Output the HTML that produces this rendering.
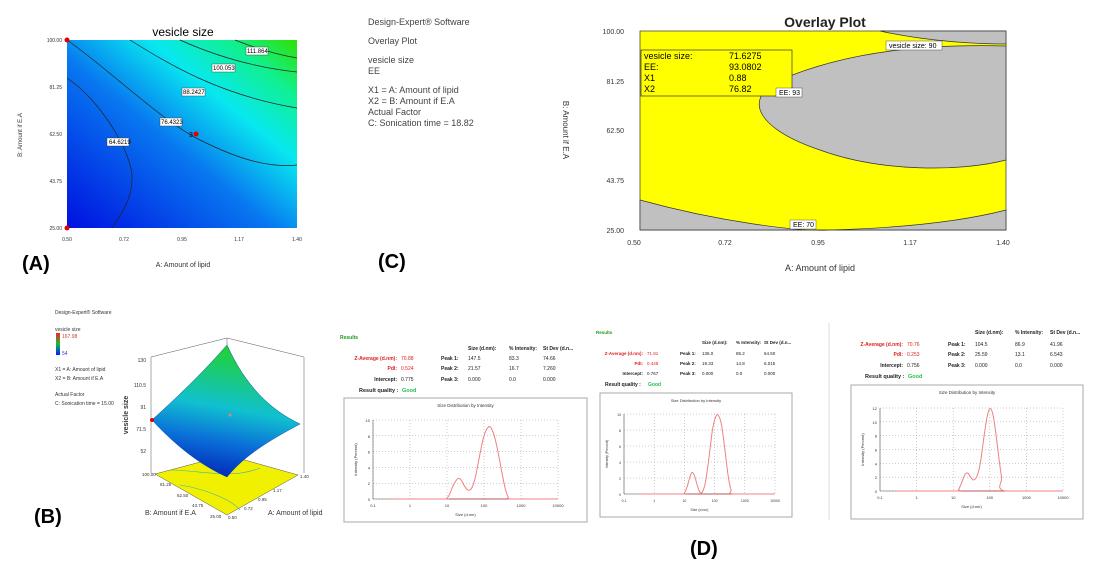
<!DOCTYPE html>
<html><head><meta charset="utf-8"><style>
body{margin:0;background:#fff;}
svg{display:block;font-family:"Liberation Sans",sans-serif;}
</style></head><body>
<svg id="s" width="1105" height="562" viewBox="0 0 1105 562">
<defs>
<linearGradient id="ga" x1="0" y1="1" x2="1" y2="0">
<stop offset="0" stop-color="#0010e0"/><stop offset="0.45" stop-color="#0878f0"/><stop offset="0.68" stop-color="#08e8f0"/><stop offset="0.85" stop-color="#10f090"/><stop offset="1" stop-color="#30e000"/></linearGradient>
<linearGradient id="gb" x1="0" y1="1" x2="0.2" y2="0">
<stop offset="0" stop-color="#0010b0"/><stop offset="0.35" stop-color="#0a70d8"/><stop offset="0.6" stop-color="#10c0d0"/><stop offset="1" stop-color="#20d040"/></linearGradient>
<linearGradient id="gc" x1="0" y1="1" x2="0" y2="0"><stop offset="0" stop-color="#0020ff"/><stop offset="0.5" stop-color="#10c040"/><stop offset="1" stop-color="#ff2020"/></linearGradient>
</defs>

<!-- Panel A -->
<g>
<text x="183" y="36" font-size="12" text-anchor="middle">vesicle size</text>
<rect x="67" y="40" width="230" height="188" fill="url(#ga)"/>
<g fill="none" stroke="#222" stroke-width="0.7">
<path d="M67,78 C100,100 130,150 132,175 C133,200 120,215 112,228"/>
<path d="M67,40 C110,70 160,120 200,140 C240,160 270,168 297,165"/>
<path d="M130,40 C170,65 220,95 297,108"/>
<path d="M180,40 C220,58 260,68 297,72"/>
<path d="M235,40 C260,50 280,55 297,58"/>
</g>
<g font-size="6" fill="#000">
<rect x="107" y="138" width="22" height="8" fill="#fff" stroke="#333" stroke-width="0.4"/><text x="109" y="144">64.6219</text>
<rect x="160" y="118" width="22" height="8" fill="#fff" stroke="#333" stroke-width="0.4"/><text x="161" y="124">76.4323</text>
<rect x="182" y="88" width="23" height="8" fill="#fff" stroke="#333" stroke-width="0.4"/><text x="183" y="94">88.2427</text>
<rect x="212" y="64" width="23" height="8" fill="#fff" stroke="#333" stroke-width="0.4"/><text x="213" y="70">100.053</text>
<rect x="246" y="47" width="22" height="8" fill="#fff" stroke="#333" stroke-width="0.4"/><text x="247" y="53">111.864</text>
</g>
<circle cx="196" cy="134" r="2.5" fill="#e00000"/><text x="189" y="137" font-size="7">3</text>
<circle cx="67" cy="40" r="2.5" fill="#e00000"/><circle cx="67" cy="228" r="2.5" fill="#e00000"/>
<g font-size="5" fill="#333" text-anchor="end">
<text x="62" y="42">100.00</text><text x="62" y="89">81.25</text><text x="62" y="136">62.50</text><text x="62" y="183">43.75</text><text x="62" y="230">25.00</text></g>
<g font-size="5" fill="#333" text-anchor="middle">
<text x="67" y="241">0.50</text><text x="124" y="241">0.72</text><text x="182" y="241">0.95</text><text x="239" y="241">1.17</text><text x="297" y="241">1.40</text></g>
<text x="183" y="267" font-size="7" text-anchor="middle" fill="#333">A: Amount of lipid</text>
<text transform="translate(22,135) rotate(-90)" font-size="6" text-anchor="middle" fill="#333">B: Amount if E.A</text>
<text x="22" y="270" font-size="20" font-weight="bold">(A)</text>
</g>

<!-- Panel C text -->
<g font-size="9" fill="#444">
<text x="368" y="25">Design-Expert® Software</text>
<text x="368" y="44">Overlay Plot</text>
<text x="368" y="63">vesicle size</text>
<text x="368" y="74">EE</text>
<text x="368" y="93">X1 = A: Amount of lipid</text>
<text x="368" y="104">X2 = B: Amount if E.A</text>
<text x="368" y="115">Actual Factor</text>
<text x="368" y="126">C: Sonication time = 18.82</text>
</g>
<text x="378" y="268" font-size="20" font-weight="bold">(C)</text>

<!-- Panel C overlay -->
<g>
<text x="825" y="27" font-size="14" font-weight="bold" text-anchor="middle" fill="#222">Overlay Plot</text>
<rect x="640" y="31" width="366" height="199" fill="#ffff00" stroke="#333" stroke-width="0.7"/>
<path d="M640,200 C720,222 800,232 830,230 C900,228 960,222 1006,210 L1006,230 L640,230Z" fill="#c0c0c0" stroke="#333" stroke-width="0.7"/>
<path d="M880,31 C930,42 980,44 1006,44 L1006,31Z" fill="#c0c0c0" stroke="#333" stroke-width="0.7"/>
<path d="M1006,46 C930,44 850,50 780,80 C740,100 760,130 820,150 C880,172 960,172 1006,160Z" fill="#c0c0c0" stroke="#333" stroke-width="0.7"/>
<rect x="641" y="50" width="151" height="46" fill="#ffff00" stroke="#333" stroke-width="0.7"/>
<g font-size="9" fill="#000"><text x="644" y="59">vesicle size:</text><text x="729" y="59">71.6275</text>
<text x="644" y="70">EE:</text><text x="729" y="70">93.0802</text>
<text x="644" y="81">X1</text><text x="729" y="81">0.88</text>
<text x="644" y="92">X2</text><text x="729" y="92">76.82</text></g>
<rect x="886" y="41" width="56" height="9" fill="#fff" stroke="#333" stroke-width="0.4"/><text x="889" y="48" font-size="7">vesicle size: 90</text>
<rect x="776" y="88" width="26" height="9" fill="#fff" stroke="#333" stroke-width="0.4"/><text x="779" y="95" font-size="7">EE: 93</text>
<rect x="790" y="220" width="26" height="9" fill="#fff" stroke="#333" stroke-width="0.4"/><text x="793" y="227" font-size="7">EE: 70</text>
<g font-size="7" fill="#333" text-anchor="end">
<text x="624" y="34">100.00</text><text x="624" y="84">81.25</text><text x="624" y="133">62.50</text><text x="624" y="183">43.75</text><text x="624" y="233">25.00</text></g>
<g font-size="7" fill="#333" text-anchor="middle">
<text x="634" y="245">0.50</text><text x="725" y="245">0.72</text><text x="818" y="245">0.95</text><text x="910" y="245">1.17</text><text x="1003" y="245">1.40</text></g>
<text x="820" y="271" font-size="9" text-anchor="middle" fill="#333">A: Amount of lipid</text>
<text transform="translate(563,130) rotate(90)" font-size="8" text-anchor="middle" fill="#333">B: Amount if E.A</text>
</g>

<!-- Panel B -->
<g>
<g font-size="5" fill="#333">
<text x="55" y="314">Design-Expert® Software</text>
<text x="55" y="331">vesicle size</text>
<rect x="56" y="333" width="4" height="22" fill="url(#gc)"/>
<text x="62" y="338" fill="#e03030">167.98</text><text x="62" y="355" fill="#3030e0">54</text>
<text x="55" y="371">X1 = A: Amount of lipid</text>
<text x="55" y="380">X2 = B: Amount if E.A</text>
<text x="55" y="396">Actual Factor</text>
<text x="55" y="405">C: Sonication time = 15.00</text></g>
<g stroke="#555" stroke-width="0.5" fill="none">
<line x1="151" y1="357" x2="151" y2="473"/><line x1="227" y1="338" x2="227" y2="455"/><line x1="304" y1="357" x2="304" y2="473"/>
<line x1="151" y1="357" x2="227" y2="338"/><line x1="227" y1="338" x2="304" y2="357"/></g>
<polygon points="155,474 227,455 298,475 227,515" fill="#f0f000" stroke="#555" stroke-width="0.5"/>
<path d="M170,470 C200,470 230,480 260,468 M180,485 C200,488 230,498 240,510" stroke="#40b0b0" fill="none" stroke-width="0.6"/>
<path d="M152,420 C185,390 205,370 227,345 C245,385 270,410 300,424 C270,440 245,455 227,477 C200,465 175,445 152,420Z" fill="url(#gb)" stroke="#0a50a0" stroke-width="0.5"/>
<circle cx="152" cy="420" r="2" fill="#e00000"/><circle cx="230" cy="415" r="1.5" fill="#e08080"/>
<g font-size="5" fill="#333" text-anchor="end"><text x="146" y="362">130</text><text x="146" y="387">110.5</text><text x="146" y="409">91</text><text x="146" y="431">71.5</text><text x="146" y="453">52</text></g>
<text transform="translate(128,415) rotate(-90)" font-size="7" font-weight="bold" text-anchor="middle" fill="#333">vesicle size</text>
<g font-size="4.5" fill="#333"><text x="142" y="476">100.00</text><text x="160" y="486">81.25</text><text x="177" y="497">62.50</text><text x="192" y="507">43.75</text><text x="210" y="518">25.00</text>
<text x="228" y="519">0.50</text><text x="244" y="510">0.72</text><text x="258" y="501">0.95</text><text x="273" y="492">1.17</text><text x="300" y="478">1.40</text></g>
<text x="145" y="515" font-size="7" fill="#333">B: Amount if E.A</text>
<text x="268" y="515" font-size="7" fill="#333">A: Amount of lipid</text>
<text x="34" y="523" font-size="20" font-weight="bold">(B)</text>
</g>

<line x1="829" y1="323" x2="829" y2="520" stroke="#ddd" stroke-width="1"/>
<text x="690" y="555" font-size="20" font-weight="bold">(D)</text>
<g id="dls"></g>
</svg>
<script>
// DLS data (size nm, intensity %)
const sizes1 = [0.3,8,10,12,15,20,25,30,38,48,60,80,100,130,160,200,250,300,380,450,550,10000];
const vals1  = [0,0,0.1,0.7,1.8,2.6,2.3,1.6,1.1,1.5,3.0,6.0,8.0,9.1,8.9,7.6,5.5,3.5,1.2,0.3,0,0];
const sizes2 = [0.3,8,10,12,15,18,22,27,33,40,50,65,85,110,135,170,220,280,350,420,10000];
const vals2  = [0,0,0.1,0.8,2.0,2.7,2.2,1.0,0.2,0.3,1.5,4.5,8.0,9.7,9.8,8.6,5.5,2.3,0.5,0,0];
const sizes3 = [0.3,12,14,17,21,25,30,36,45,55,70,85,100,120,145,175,210,260,10000];
const vals3  = [0,0,0.2,1.2,2.4,2.6,2.0,1.6,2.2,4.0,8.0,10.8,11.9,11.2,8.5,5.0,2.0,0,0];
const rows1 = [["Z-Average (d.nm):","70.88","Peak 1:","147.5","83.3","74.66"],["PdI:","0.524","Peak 2:","21.57","16.7","7.260"],["Intercept:","0.775","Peak 3:","0.000","0.0","0.000"]];
const rows2 = [["Z-Average (d.nm):","71.81","Peak 1:","136.0","85.2","64.50"],["PdI:","0.448","Peak 2:","19.33","14.8","6.015"],["Intercept:","0.767","Peak 3:","0.000","0.0","0.000"]];
const rows3 = [["Z-Average (d.nm):","70.76","Peak 1:","104.5","86.9","41.96"],["PdI:","0.253","Peak 2:","25.59","13.1","6.543"],["Intercept:","0.756","Peak 3:","0.000","0.0","0.000"]];
const xTicks = [0.1,1,10,100,1000,10000];
const xTickLabels = ["0.1","1","10","100","1000","10000"];

const NS="http://www.w3.org/2000/svg";
const root=document.getElementById('dls');
function el(t,a,p,txt){const e=document.createElementNS(NS,t);for(const k in a)e.setAttribute(k,a[k]);if(txt!==undefined)e.textContent=txt;(p||root).appendChild(e);return e;}
function panel(o,sizes,vals,rows,ymax){
 const g=el('g',{});
 
 
 const fs=o.fs;
 if(o.results){el('text',{x:o.rx,y:o.ry,'font-size':fs,fill:'#1a9a1a','font-weight':'bold'},g,'Results');}
 const hd=["Size (d.nm):","% Intensity:","St Dev (d.n..."];
 hd.forEach((h,i)=>el('text',{x:o.cols[i],y:o.hy,'font-size':fs,'font-weight':'bold',fill:'#222'},g,h));
 rows.forEach((r,i)=>{const y=o.rowY[i];
  el('text',{x:o.lx,y:y,'font-size':fs,'text-anchor':'end','font-weight':'bold',fill:i<2?'#e02020':'#222'},g,r[0]);
  el('text',{x:o.lx+4,y:y,'font-size':fs,fill:i<2?'#e02020':'#222'},g,r[1]);
  el('text',{x:o.px,y:y,'font-size':fs,'font-weight':'bold',fill:'#222'},g,r[2]);
  for(let j=0;j<3;j++)el('text',{x:o.cols[j],y:y,'font-size':fs,fill:'#222'},g,r[3+j]);
 });
 el('text',{x:o.lx-38,y:o.qy,'font-size':fs+0.5,'font-weight':'bold',fill:'#222'},g,'Result quality :');
 el('text',{x:o.lx+5,y:o.qy,'font-size':fs+0.5,'font-weight':'bold',fill:'#20c050'},g,'Good');
 el('rect',{x:o.bx,y:o.by,width:o.bw,height:o.bh,fill:'#fff',stroke:'#aaa','stroke-width':1},g);
 el('text',{x:o.bx+o.bw/2,y:o.by+9,'font-size':fs-0.5,'text-anchor':'middle',fill:'#333'},g,'Size Distribution by Intensity');
 const X=v=>o.x0+(Math.log10(v)+1)/5*(o.x1-o.x0);
 const Y=v=>o.y0-v/ymax*(o.y0-o.y1);
 for(let v=0;v<=ymax;v+=2){
  el('line',{x1:o.x0,x2:o.x1,y1:Y(v),y2:Y(v),stroke:'#999','stroke-width':0.5,'stroke-dasharray':'1,2'},g);
  el('text',{x:o.x0-3,y:Y(v)+2,'font-size':fs-1,'text-anchor':'end',fill:'#333'},g,String(v));
 }
 xTicks.forEach((t,i)=>{
  el('line',{x1:X(t),x2:X(t),y1:o.y1,y2:o.y0,stroke:'#999','stroke-width':0.5,'stroke-dasharray':'1,2'},g);
  el('text',{x:X(t),y:o.y0+8,'font-size':fs-1,'text-anchor':'middle',fill:'#333'},g,xTickLabels[i]);
 });
 el('line',{x1:o.x0,x2:o.x0,y1:o.y1,y2:o.y0,stroke:'#555','stroke-width':0.6},g);
 el('line',{x1:o.x0,x2:o.x1,y1:o.y0,y2:o.y0,stroke:'#555','stroke-width':0.6},g);
 el('line',{x1:X(0.3),x2:o.x1,y1:o.y0,y2:o.y0,stroke:'#c04040','stroke-width':0.8},g);
 el('text',{x:(o.x0+o.x1)/2,y:o.y0+17,'font-size':fs-1,'text-anchor':'middle',fill:'#333'},g,'Size (d.nm)');
 const ly=(o.y0+o.y1)/2;
 el('text',{x:o.x0-16,y:ly,'font-size':fs-1,'text-anchor':'middle',fill:'#333',transform:`rotate(-90 ${o.x0-16} ${ly})`},g,'Intensity (Percent)');
 const pts=sizes.map((s,i)=>[X(s),Y(vals[i])]);
 let d=`M${pts[0][0]},${pts[0][1]}`;
 for(let i=0;i<pts.length-1;i++){const p0=pts[Math.max(0,i-1)],p1=pts[i],p2=pts[i+1],p3=pts[Math.min(pts.length-1,i+2)];
  let c1y=Math.min(p1[1]+(p2[1]-p0[1])/6,o.y0),c2y=Math.min(p2[1]-(p3[1]-p1[1])/6,o.y0);
  d+=` C${p1[0]+(p2[0]-p0[0])/6},${c1y} ${p2[0]-(p3[0]-p1[0])/6},${c2y} ${p2[0]},${p2[1]}`;}
 const c=el('path',{d:d,fill:'none',stroke:'#f08080','stroke-width':1},g);
 
 
}
panel({id:1,fs:5,results:true,rx:340,ry:339,cols:[468,509,543],hy:350,rowY:[360,370,381],lx:397,px:441,qy:392,bx:344,by:398,bw:243,bh:124,x0:373,x1:558,y0:499,y1:420},sizes1,vals1,rows1,10);
panel({id:2,fs:4.5,results:true,rx:596,ry:334,cols:[702,736,764],hy:344,rowY:[355,365,375],lx:643,px:680,qy:386,bx:600,by:393,bw:192,bh:124,x0:624,x1:775,y0:494,y1:414},sizes2,vals2,rows2,10);
panel({id:3,fs:5,results:false,cols:[975,1015,1050],hy:334,rowY:[346,356,367],lx:903,px:948,qy:378,bx:851,by:385,bw:232,bh:134,x0:880,x1:1063,y0:491,y1:408},sizes3,vals3,rows3,12);
</script>
</body></html>
